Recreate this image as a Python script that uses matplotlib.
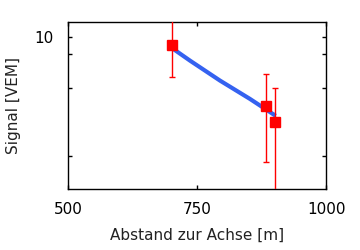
import matplotlib
matplotlib.use("Agg")
import matplotlib.pyplot as plt
from matplotlib.ticker import NullLocator, FixedLocator, FixedFormatter

# data points (distance [m], signal [VEM]) with asymmetric error bounds
dist = [701, 884, 901]
signal = [8.97, 3.93, 3.16]
err_low = [5.82, 1.84, 1.0]
err_high = [14.0, 6.06, 5.05]

# fitted LDF curve
fit_x = [703, 736, 794, 852, 902]
fit_y = [8.55, 7.28, 5.56, 4.34, 3.45]

xticks = [500, 750, 1000]
yticks = [2, 5, 8, 10]
yticklabels = ["", "", "", "10"]

fig = plt.figure(figsize=(3.6, 2.5), dpi=100)
ax = fig.add_axes([0.19, 0.244, 0.716, 0.667])

ax.plot(fit_x, fit_y, color="#3562f0", lw=3.0, solid_capstyle="butt", zorder=2)
yerr = [[s - l for s, l in zip(signal, err_low)],
        [h - s for s, h in zip(signal, err_high)]]
ax.errorbar(dist, signal, yerr=yerr, fmt="s", color="red", ms=6.5,
            elinewidth=1.0, capsize=2.0, capthick=1.0, zorder=3)

ax.set_yscale("log")
ax.set_xlim(500, 1000)
ax.set_ylim(1.28, 12.25)
ax.yaxis.set_major_locator(FixedLocator(yticks))
ax.yaxis.set_major_formatter(FixedFormatter(yticklabels))
ax.yaxis.set_minor_locator(NullLocator())
ax.set_xticks(xticks)
ax.set_xticklabels([str(v) for v in xticks])
ax.xaxis.set_minor_locator(NullLocator())

ax.tick_params(direction="in", length=3, width=1, top=True, right=True,
               labelsize=11, colors="black")
ax.tick_params(axis="x", pad=9)
ax.tick_params(axis="y", pad=11)
for s in ax.spines.values():
    s.set_linewidth(1.0)

ax.set_xlabel("Abstand zur Achse [m]", fontsize=11, labelpad=8, color="#222222")
ax.set_ylabel("Signal [VEM]", fontsize=11, labelpad=9, color="#222222")

fig.savefig("out.png", dpi=100)
